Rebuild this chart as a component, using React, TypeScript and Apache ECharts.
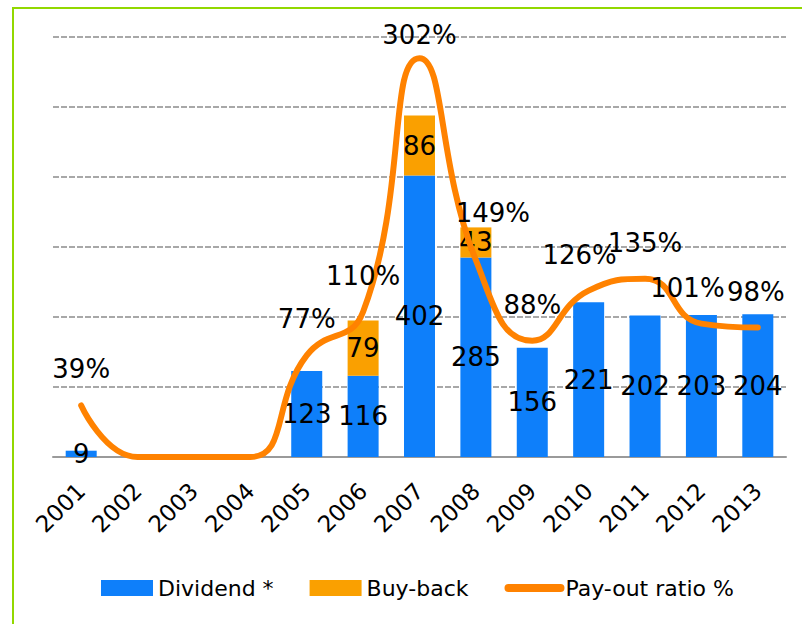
import React, { useEffect, useRef } from "react";
import * as echarts from "echarts";

const years = ["2001", "2002", "2003", "2004", "2005", "2006", "2007", "2008", "2009", "2010", "2011", "2012", "2013"];
const dividend = [9, 0, 0, 0, 123, 116, 402, 285, 156, 221, 202, 203, 204];
const buyback = [0, 0, 0, 0, 0, 79, 86, 43, 0, 0, 0, 0, 0];
const payout = [39, 0, 0, 0, 77, 110, 302, 149, 88, 126, 135, 101, 98];

const FONT = "DejaVu Sans";

export default function App() {
  const ref = useRef<HTMLDivElement>(null);
  useEffect(() => {
    if (!ref.current) return;
    const chart = echarts.init(ref.current, undefined, { renderer: "svg" });
    const labelTweaks: Record<number, any> = {
      6: { distance: 9 },
      7: { distance: 33, offset: [17, 0] },
      9: { offset: [-9, 0] },
      11: { offset: [-14, 0] },
      12: { offset: [-2, 0] },
    };
    const lineData = payout.map((v, i) =>
      labelTweaks[i] ? { value: v, label: labelTweaks[i] } : { value: v }
    );
    chart.setOption({
      animation: false,
      textStyle: { fontFamily: FONT },
      graphic: [
        { type: "line", shape: { x1: 13, y1: 8, x2: 13, y2: 624 }, style: { stroke: "#92D800", lineWidth: 2 } },
        { type: "line", shape: { x1: 12, y1: 8, x2: 802, y2: 8 }, style: { stroke: "#92D800", lineWidth: 2 } },
      ],
      grid: { left: 53, right: 16, top: 37, bottom: 167 },
      legend: {
        left: 96,
        top: 572,
        itemWidth: 52,
        itemHeight: 16,
        itemGap: 36,
        textStyle: { fontFamily: FONT, fontSize: 22, color: "#000" },
        data: [
          { name: "Dividend *", icon: "rect" },
          { name: "Buy-back", icon: "rect" },
          {
            name: "Pay-out ratio %",
            itemStyle: { opacity: 0 },
            lineStyle: { width: 8, cap: "round", color: "#FF8200" },
          },
        ],
      },
      xAxis: {
        type: "category",
        data: years,
        axisLine: { lineStyle: { color: "#9a9a9a", width: 2 } },
        axisTick: { length: 9, lineStyle: { color: "#9a9a9a", width: 2 } },
        axisLabel: { rotate: 45, fontSize: 23, color: "#000", fontFamily: FONT, margin: 30, interval: 0 },
      },
      yAxis: [
        {
          type: "value",
          min: 0,
          max: 600,
          interval: 100,
          axisLabel: { show: false },
          axisLine: { show: false },
          axisTick: { show: false },
          splitLine: { lineStyle: { color: "#8c8c8c", width: 1.5, type: [6, 2] } },
        },
        {
          type: "value",
          min: 0,
          max: 318,
          show: false,
          splitLine: { show: false },
        },
      ],
      series: [
        {
          name: "Dividend *",
          type: "bar",
          stack: "total",
          data: dividend,
          barWidth: 31,
          itemStyle: { color: "#0E7FFA" },
          label: {
            show: true,
            position: "inside",
            fontSize: 26,
            color: "#000",
            fontFamily: FONT,
            formatter: (p: any) => (p.value ? String(p.value) : ""),
          },
          z: 2,
        },
        {
          name: "Buy-back",
          type: "bar",
          stack: "total",
          data: buyback,
          barWidth: 31,
          itemStyle: { color: "#FAA000" },
          label: {
            show: true,
            position: "inside",
            fontSize: 26,
            color: "#000",
            fontFamily: FONT,
            formatter: (p: any) => (p.value ? String(p.value) : ""),
          },
          z: 2,
        },
        {
          name: "Pay-out ratio %",
          type: "line",
          yAxisIndex: 1,
          data: lineData,
          smooth: 0.5,
          symbol: "circle",
          symbolSize: 2,
          itemStyle: { color: "#FF8200" },
          lineStyle: { color: "#FF8200", width: 6, cap: "round" },
          label: {
            show: true,
            position: "top",
            distance: 22,
            fontSize: 26,
            color: "#000",
            fontFamily: FONT,
            formatter: (p: any) => (p.value ? p.value + "%" : ""),
          },
          z: 3,
        },
      ],
    });
    return () => chart.dispose();
  }, []);
  return (
    <div
      ref={ref}
      style={{ position: "absolute", left: 0, top: 0, width: 802, height: 624, background: "#fff" }}
    />
  );
}
